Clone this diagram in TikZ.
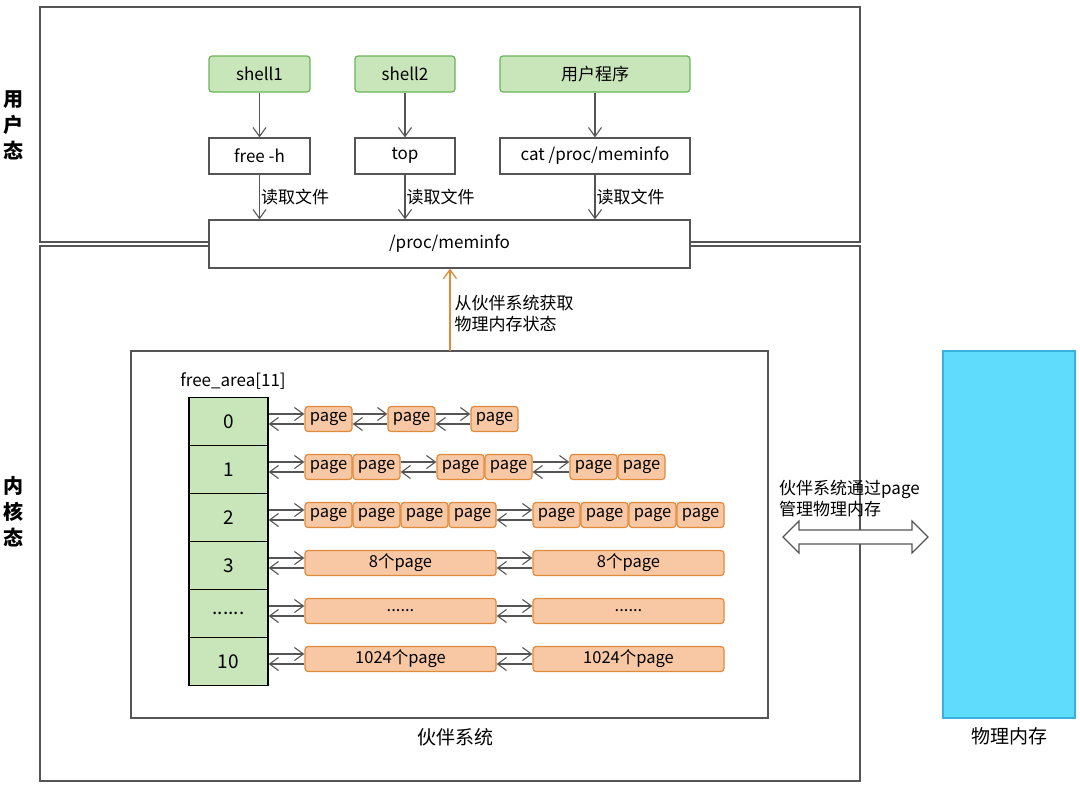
\documentclass[tikz,border=0pt]{standalone}
\usepackage{fontspec}
\setmainfont{Noto Sans CJK SC}
\usetikzlibrary{arrows.meta,shapes.arrows}
\definecolor{greenfill}{HTML}{C9E6BA}
\definecolor{greenline}{HTML}{6DB35C}
\definecolor{orangefill}{HTML}{F8C8A4}
\definecolor{orangeline}{HTML}{E08A3C}
\definecolor{cyanfill}{HTML}{5FDCFB}
\definecolor{cyanline}{HTML}{3AB0DE}
\definecolor{linegray}{HTML}{555555}
\newcommand\sixdots{......}
\tikzset{
  box/.style={draw=linegray,line width=1.2pt,fill=white,inner sep=0pt,font=\fontsize{17}{20}\selectfont},
  prog/.style={box,draw=greenline,fill=greenfill,rounded corners=3pt},
  page/.style={draw=orangeline,line width=1.2pt,fill=orangefill,rounded corners=3pt,inner sep=0pt,
    minimum height=25pt,font=\fontsize{16.5}{18}\selectfont},
  slot/.style={draw=black,line width=1.2pt,fill=greenfill,minimum width=79pt,minimum height=48pt,
    inner sep=0pt,font=\fontsize{19}{22}\selectfont},
  link/.style={-{Straight Barb[length=9pt,width=13pt]},draw=linegray,line width=1.1pt},
  lbl/.style={font=\fontsize{17}{21}\selectfont,inner sep=1pt},
}
\begin{document}
\begin{tikzpicture}[x=1pt,y=-1pt]
\useasboundingbox (0,0) rectangle (1080,788);
%% frames
\draw[linegray,line width=1.2pt] (40,7) rectangle (860,242);
\draw[linegray,line width=1.2pt] (40,246) rectangle (860,781);
\node[font=\fontsize{20}{26}\selectfont\bfseries,align=center] (user) at (14,125) {用\\户\\态};
\node[font=\fontsize{20}{26}\selectfont\bfseries,align=center] (kernel) at (14,512) {内\\核\\态};
%% user programs
\node[prog,minimum width=101pt,minimum height=36pt] (shell1) at (259.5,74) {shell1};
\node[prog,minimum width=100pt,minimum height=36pt] (shell2) at (405,74) {shell2};
\node[prog,minimum width=190pt,minimum height=36pt] (uprog) at (595,74) {用户程序};
\node[box,minimum width=101pt,minimum height=36pt] (freeh) at (259.5,156) {free -h};
\node[box,minimum width=100pt,minimum height=36pt] (top) at (405,156) {top};
\node[box,minimum width=190pt,minimum height=36pt] (cat) at (595,156) {cat /proc/meminfo};
\node[box,minimum width=481pt,minimum height=48pt] (meminfo) at (449.5,244) {/proc/meminfo};
\draw[link] (shell1) -- (freeh);
\draw[link] (shell2) -- (top);
\draw[link] (uprog) -- (cat);
\draw[link] (freeh) -- (freeh.south |- meminfo.north) node[midway,right,lbl] {读取文件};
\draw[link] (top) -- (top.south |- meminfo.north) node[midway,right,lbl] {读取文件};
\draw[link] (cat) -- (cat.south |- meminfo.north) node[midway,right,lbl] {读取文件};
%% buddy system
\draw[linegray,line width=1.2pt] (131,351) rectangle (768,718);
\node[lbl,font=\fontsize{19}{22}\selectfont] (buddy) at (455,737) {伙伴系统};
\coordinate (up) at (450,351);
\draw[-{Straight Barb[length=9pt,width=13pt]},draw=orangeline,line width=1.3pt] (up) -- (up |- meminfo.south)
  node[pos=0.45,right,lbl,align=left,xshift=3pt] {从伙伴系统获取\\物理内存状态};
\node[lbl] (farea) at (233,381) {free\_area[11]};
\foreach \n/\t [count=\i from 0] in {s0/0,s1/1,s2/2,s3/3,s4/\sixdots,s5/10}
  \node[slot] (\n) at (228.5,421.5+48*\i) {\t};
%% pages, row by row
\foreach \x [count=\k] in {328.5,411.5,494.5}
  \node[page,minimum width=47pt] (a\k) at (\x,419) {page};
\foreach \x [count=\k] in {328.5,376.5,460.5,508.5,593.5,641.5}
  \node[page,minimum width=47pt] (b\k) at (\x,467) {page};
\foreach \x [count=\k] in {328.5,376.5,424.5,472.5,556.5,604.5,652.5,700.5}
  \node[page,minimum width=47pt] (c\k) at (\x,515) {page};
\node[page,minimum width=191pt] (d1) at (400.5,563) {8个page};
\node[page,minimum width=191pt] (d2) at (628.5,563) {8个page};
\node[page,minimum width=191pt] (e1) at (400.5,611) {\sixdots};
\node[page,minimum width=191pt] (e2) at (628.5,611) {\sixdots};
\node[page,minimum width=191pt] (f1) at (400.5,659) {1024个page};
\node[page,minimum width=191pt] (f2) at (628.5,659) {1024个page};
%% doubly linked lists
\foreach \l/\r in {s0/a1,a1/a2,a2/a3,s1/b1,b2/b3,b4/b5,s2/c1,c4/c5,s3/d1,d1/d2,s4/e1,e1/e2,s5/f1,f1/f2} {
  \draw[link] ([yshift=5pt]\l.east |- \r.west) -- ([yshift=5pt]\r.west);
  \draw[link] ([yshift=-5pt]\r.west) -- ([yshift=-5pt]\l.east |- \r.west);
}
%% physical memory
\node[draw=cyanline,line width=1.2pt,fill=cyanfill,minimum width=132pt,minimum height=367pt,inner sep=0pt]
  (phys) at (1009,534.5) {};
\node[lbl,font=\fontsize{19}{22}\selectfont] (physlbl) at (1009,736) {物理内存};
\node[double arrow,draw=linegray,line width=1.2pt,fill=white,minimum width=32pt,
  double arrow head extend=6pt,double arrow head indent=0pt,minimum height=145pt,inner sep=4pt] (manage) at (855.5,537) {};
\node[lbl,align=left,anchor=south west] (managelbl) at (778,518) {伙伴系统通过page\\管理物理内存};
\end{tikzpicture}
\end{document}
